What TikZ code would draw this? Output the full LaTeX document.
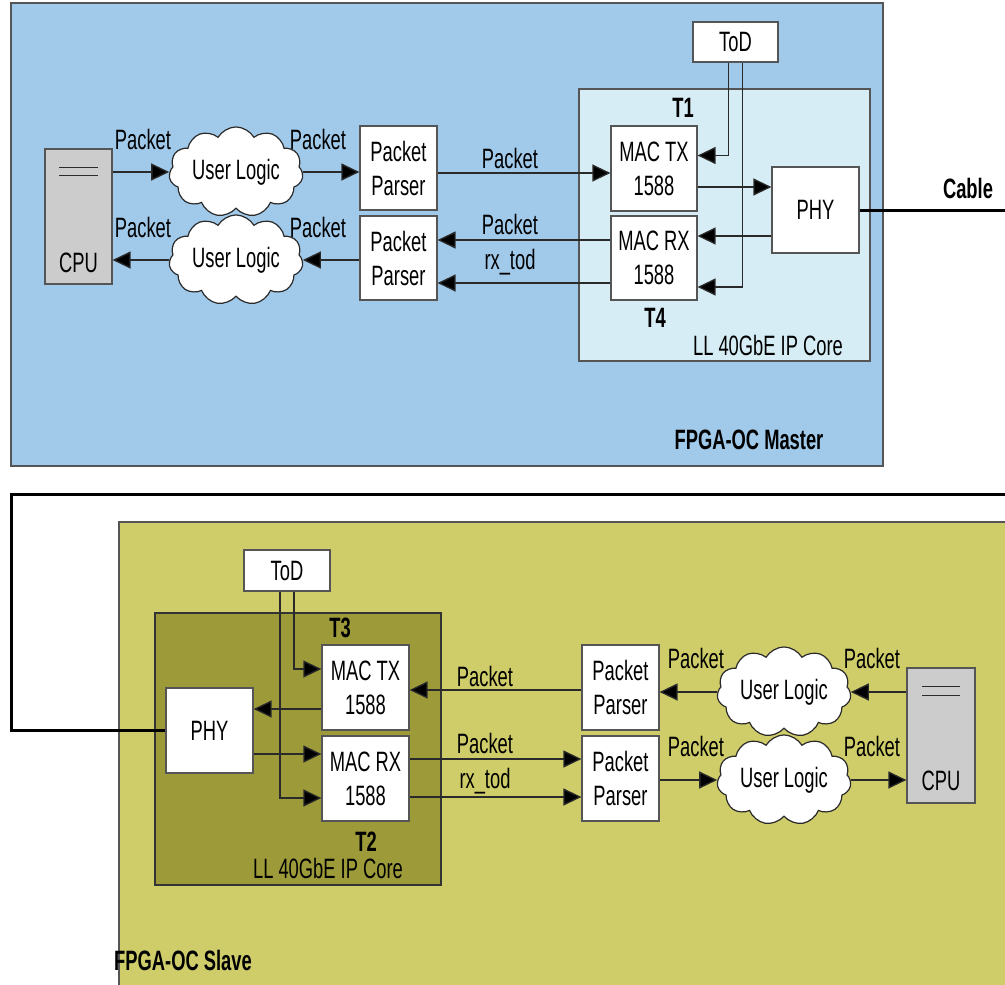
\documentclass[tikz,border=0pt]{standalone}
\usepackage{fontspec}
\setmainfont[FakeStretch=0.655]{Liberation Sans}
\usetikzlibrary{arrows.meta,shapes.symbols,calc}
\definecolor{masterbg}{HTML}{A0C9EA}
\definecolor{corem}{HTML}{D6EDF5}
\definecolor{slavebg}{HTML}{CFCC6A}
\definecolor{cores}{HTML}{9D9B39}
\definecolor{cpugray}{HTML}{CCCCCC}
\definecolor{lnc}{HTML}{2A2A2A}
\definecolor{bdr}{HTML}{555555}
\tikzset{
  txt/.style={font=\fontsize{28}{34}\selectfont, inner sep=0pt},
  btxt/.style={font=\fontsize{28}{34}\selectfont\bfseries, inner sep=0pt},
  box/.style={draw=bdr, line width=1.2pt, fill=white, inner sep=0pt, align=center,
     font=\fontsize{28}{34}\selectfont},
  cpubox/.style={draw=bdr, line width=1.2pt, fill=cpugray, inner sep=0pt,
     minimum width=67pt, minimum height=135pt},
  ulcloud/.style={cloud, cloud puffs=11, cloud puff arc=120, aspect=1.7, draw=lnc, line width=1.2pt,
     fill=white, minimum width=134pt, minimum height=80pt, inner sep=0pt,
     font=\fontsize{28}{34}\selectfont},
  arr/.style={draw=lnc, line width=1.3pt, -{Triangle[length=18pt,width=17pt,fill=black]}},
  cable/.style={draw=black, line width=3pt},
  panel/.style={draw=bdr, line width=1.5pt}
}
\begin{document}
\begin{tikzpicture}[x=1pt,y=-1pt]
\useasboundingbox (0,0) rectangle (1005,985);
% ---------------- Master panel ----------------
\fill[masterbg, draw=bdr, line width=1.5pt] (11,3) rectangle (883,466);
\fill[corem, draw=bdr, line width=1.2pt] (579,89) rectangle (870,361);

\node[cpubox] (cpuM) at (78.5,216.5) {};
\draw[lnc, line width=1pt] ($(cpuM.north west)+(15,19)$) -- ($(cpuM.north east)+(-15,19)$);
\draw[lnc, line width=1pt] ($(cpuM.north west)+(15,27)$) -- ($(cpuM.north east)+(-15,27)$);
\node[txt] (cpuMt) at (78.5,263) {CPU};

\node[ulcloud] (ulM1) at (236,172) {User Logic};
\node[ulcloud] (ulM2) at (236,260) {User Logic};

\node[box, minimum width=77pt, minimum height=84pt] (ppM1) at (398.5,168) {Packet\\Parser};
\node[box, minimum width=77pt, minimum height=84pt] (ppM2) at (398.5,258) {Packet\\Parser};

\node[box, minimum width=86pt, minimum height=85pt] (macTxM) at (654,168.5) {MAC TX\\1588};
\node[box, minimum width=86pt, minimum height=84pt] (macRxM) at (654,258) {MAC RX\\1588};
\node[box, minimum width=87pt, minimum height=86pt] (phyM) at (815.5,210) {PHY};
\node[box, minimum width=85pt, minimum height=40pt] (todM) at (735.5,42) {ToD};

\node[btxt] (t1) at (683,108) {T1};
\node[btxt] (t4) at (655,318) {T4};
\node[txt] (coreMl) at (768,345) {LL 40GbE IP Core};
\node[btxt] (masterl) at (749,440) {FPGA-OC Master};
\node[btxt] (cablel) at (968,188) {Cable};

\node[txt] (pkM1) at (143,139) {Packet};
\node[txt] (pkM2) at (318,139) {Packet};
\node[txt] (pkM3) at (143,227) {Packet};
\node[txt] (pkM4) at (318,227) {Packet};
\node[txt] (pkM5) at (510,158) {Packet};
\node[txt] (pkM6) at (510,224) {Packet};
\node[txt] (rxM) at (510,262) {rx\_tod};

\draw[arr] (cpuM.east |- ulM1.west) -- (ulM1.west);
\draw[arr] (ulM1.east) -- (ppM1.west |- ulM1.east);
\draw[arr] (ppM2.west |- ulM2.east) -- (ulM2.east);
\draw[arr] (ulM2.west) -- (cpuM.east |- ulM2.west);
\draw[arr] ($(ppM1.east)+(0,5)$) -- ($(macTxM.west)+(0,4.5)$);
\draw[arr] ($(macRxM.west)+(0,-18)$) -- ($(ppM2.east)+(0,-18)$);
\draw[arr] ($(macRxM.west)+(0,25)$) -- ($(ppM2.east)+(0,25)$);
\draw[arr] ($(todM.south)+(-7,0)$) |- ($(macTxM.east)+(0,-13)$);
\draw[arr] ($(todM.south)+(7,0)$) |- ($(macRxM.east)+(0,29)$);
\draw[arr] ($(macTxM.east)+(0,18.5)$) -- ($(phyM.west)+(0,-23)$);
\draw[arr] ($(phyM.west)+(0,26)$) -- ($(macRxM.east)+(0,-22)$);

\coordinate (cableEnd) at (1005,210);
\draw[cable] (phyM.east) -- (cableEnd);

% ---------------- Slave panel ----------------
\fill[slavebg] (119,522) rectangle (1005,985);
\draw[panel] (119,985) -- (119,522) -- (1005,522);
\fill[cores, draw=black!80, line width=1.2pt] (155,613) rectangle (441,885);

\node[box, minimum width=86pt, minimum height=41pt] (todS) at (287,570.5) {ToD};
\node[box, minimum width=87pt, minimum height=85pt] (macTxS) at (365.5,687.5) {MAC TX\\1588};
\node[box, minimum width=87pt, minimum height=85pt] (macRxS) at (365.5,778.5) {MAC RX\\1588};
\node[box, minimum width=87pt, minimum height=85pt] (phyS) at (209.5,730.5) {PHY};
\node[box, minimum width=77pt, minimum height=85pt] (ppS1) at (620.5,687.5) {Packet\\Parser};
\node[box, minimum width=77pt, minimum height=85pt] (ppS2) at (620.5,778.5) {Packet\\Parser};
\node[ulcloud] (ulS1) at (784,692) {User Logic};
\node[ulcloud] (ulS2) at (784,780) {User Logic};

\node[cpubox, minimum width=68pt] (cpuS) at (941,735.5) {};
\draw[lnc, line width=1pt] ($(cpuS.north west)+(16,19)$) -- ($(cpuS.north east)+(-16,19)$);
\draw[lnc, line width=1pt] ($(cpuS.north west)+(16,28)$) -- ($(cpuS.north east)+(-16,28)$);
\node[txt] (cpuSt) at (941,781) {CPU};

\node[btxt] (t3) at (340,628) {T3};
\node[btxt] (t2) at (366,842) {T2};
\node[txt] (coreSl) at (328,868) {LL 40GbE IP Core};
\node[btxt] (slavel) at (183,960) {FPGA-OC Slave};

\node[txt] (pkS1) at (696,658) {Packet};
\node[txt] (pkS2) at (872,658) {Packet};
\node[txt] (pkS3) at (696,746) {Packet};
\node[txt] (pkS4) at (872,746) {Packet};
\node[txt] (pkS5) at (485,676) {Packet};
\node[txt] (pkS6) at (485,743) {Packet};
\node[txt] (rxS) at (485,781) {rx\_tod};

\draw[arr] ($(todS.south)+(-7,0)$) |- ($(macRxS.west)+(0,19.5)$);
\draw[arr] ($(todS.south)+(7,0)$) |- ($(macTxS.west)+(0,-18.5)$);
\draw[arr] ($(macTxS.west)+(0,21.5)$) -- ($(phyS.east)+(0,-21.5)$);
\draw[arr] ($(phyS.east)+(0,23.5)$) -- ($(macRxS.west)+(0,-24.5)$);
\draw[arr] ($(ppS1.west)+(0,2.5)$) -- ($(macTxS.east)+(0,2.5)$);
\draw[arr] ($(macRxS.east)+(0,-19.5)$) -- ($(ppS2.west)+(0,-19.5)$);
\draw[arr] ($(macRxS.east)+(0,18.5)$) -- ($(ppS2.west)+(0,18.5)$);
\draw[arr] (cpuS.west |- ulS1.east) -- (ulS1.east);
\draw[arr] (ulS1.west) -- (ppS1.east |- ulS1.west);
\draw[arr] (ppS2.east |- ulS2.west) -- (ulS2.west);
\draw[arr] (ulS2.east) -- (cpuS.west |- ulS2.east);

\coordinate (cR) at (1005,494);
\coordinate (cTL) at (11,494);
\coordinate (cBL) at (11,730.5);
\draw[cable, line join=miter] (cR) -- (cTL) -- (cBL) -- (phyS.west);
\end{tikzpicture}
\end{document}
